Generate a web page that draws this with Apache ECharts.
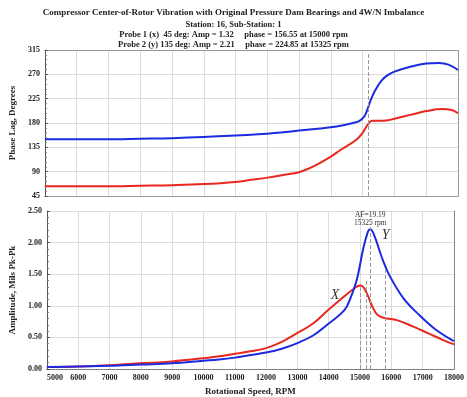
<!DOCTYPE html>
<html><head><meta charset="utf-8">
<script src="https://cdn.jsdelivr.net/npm/echarts@6/dist/echarts.min.js"></script>
<style>html,body{margin:0;padding:0;background:#fff}#c{width:467px;height:397px}</style>
</head><body><div id="c"></div>
<script>
// ---- data ----
const titleLines = [
  'Compressor Center-of-Rotor Vibration with Original Pressure Dam Bearings and 4W/N Imbalance',
  'Station: 16, Sub-Station: 1',
  'Probe 1 (x)  45 deg: Amp = 1.32     phase = 156.55 at 15000 rpm',
  'Probe 2 (y) 135 deg: Amp = 2.21     phase = 224.85 at 15325 rpm'
];
const phaseTicks = [45, 90, 135, 180, 225, 270, 315];
const ampTicks = [0, 0.5, 1.0, 1.5, 2.0, 2.5];
const rpmTicks = [5000,6000,7000,8000,9000,10000,11000,12000,13000,14000,15000,16000,17000,18000];

const bluePhaseRpm = [5000,6000,7000,8000,9000,10000,11000,12000,12500,13000,13500,14000,14400,14700,14900,15050,15150,15250,15400,15600,15800,16000,16500,17000,17400,17700,18000];
const bluePhase    = [150,150,150,151,152,154,157,160,163,166,169,172,176,180,184,192,205,222,241,259,269,275,284,290,291,288,278];

const redPhaseRpm = [5000,6000,7000,8000,9000,10000,11000,11500,12000,12500,13000,13500,14000,14300,14800,15000,15150,15300,15500,15800,16000,16500,17000,17500,17800,18000];
const redPhase    = [63,63,63,64,65,67,71,75,79,84,89,101,118,130,149,162,176,184,184,185,188,195,202,206,204,198];

const redAmpRpm = [5000,6000,7000,8000,9000,10000,10500,11000,11500,12000,12500,13000,13500,14000,14500,14800,15000,15100,15250,15400,15550,15750,16200,16700,17200,17600,18000];
const redAmp    = [0.03,0.04,0.06,0.09,0.12,0.17,0.20,0.24,0.28,0.33,0.43,0.57,0.72,0.94,1.15,1.27,1.32,1.30,1.16,0.98,0.86,0.81,0.77,0.67,0.56,0.47,0.39];

const blueAmpRpm = [5000,6000,7000,8000,9000,10000,10500,11000,11500,12000,12500,13000,13500,14000,14500,14700,14900,15100,15250,15325,15450,15700,15950,16400,16900,17400,18000];
const blueAmp    = [0.03,0.04,0.05,0.07,0.09,0.13,0.15,0.18,0.22,0.26,0.32,0.41,0.53,0.72,0.93,1.13,1.42,1.90,2.17,2.21,2.12,1.76,1.47,1.11,0.85,0.63,0.44];

// dashed reference lines [rpm, top value]
const ampRefLines = [[15000, 1.32], [15190, 1.40], [15325, 2.30], [15800, 1.56]];
const phaseRefLine = [15190, 45, 310];
const peakNote = ['AF=19.19', '15325 rpm'];
const peakNoteAt = [15325, 2.37];
const labelX = ['X', 14200, 1.17];
const labelY = ['Y', 15820, 2.12];

// ---- chart ----
const zip = (a, b) => a.map((v, i) => [v, b[i]]);
const serif = 'Liberation Serif';
const RED = '#e8271e', BLUE = '#1b2be0';
const grids = [
  {left: 42, right: 9, top: 50, height: 146},
  {left: 42, right: 9, top: 211, height: 160}
];
const frameAxisStyle = {show: true, lineStyle: {color: '#888', type: 'dotted', width: 1}};
const gridLine = {show: true, lineStyle: {color: '#dcdcdc', width: 1}};
const labelFont = {fontFamily: serif, fontWeight: 'bold', fontSize: 8, color: '#222'};
const noteLabel = (text, size, italic) => ({
  show: true, position: 'inside', formatter: text, fontFamily: serif,
  fontStyle: italic ? 'italic' : 'normal', fontSize: size, lineHeight: size + 0.5, color: '#333'
});

const chart = echarts.init(document.getElementById('c'), null, {renderer: 'canvas'});
chart.setOption({
  animation: false,
  backgroundColor: '#fff',
  title: titleLines.map((t, i) => ({
    text: t, left: 'center', top: [3, 15, 25, 35][i],
    textStyle: {fontFamily: serif, fontWeight: 'bold', fontSize: i === 0 ? 9 : 8.5, color: '#222'}
  })),
  grid: grids,
  xAxis: [
    {gridIndex: 0, type: 'value', min: 5000, max: 18000, interval: 1000,
     axisLine: {show: true, onZero: false, lineStyle: {color: '#888', type: 'dotted'}},
     axisTick: {show: false}, axisLabel: {show: false}, splitLine: gridLine},
    {gridIndex: 1, type: 'value', min: 5000, max: 18000, interval: 1000,
     axisLine: {show: true, onZero: false, lineStyle: {color: '#555'}},
     axisTick: {show: false},
     axisLabel: Object.assign({margin: 5, alignMinLabel: 'left', alignMaxLabel: 'center', formatter: v => String(v)}, labelFont),
     splitLine: gridLine,
     name: 'Rotational Speed, RPM', nameLocation: 'middle', nameGap: 18,
     nameTextStyle: {fontFamily: serif, fontWeight: 'bold', fontSize: 9, color: '#222'}},
    {gridIndex: 0, type: 'value', position: 'top', min: 5000, max: 18000,
     axisLine: frameAxisStyle, axisTick: {show: false}, axisLabel: {show: false}, splitLine: {show: false}},
    {gridIndex: 1, type: 'value', position: 'top', min: 5000, max: 18000,
     axisLine: frameAxisStyle, axisTick: {show: false}, axisLabel: {show: false}, splitLine: {show: false}}
  ],
  yAxis: [
    {gridIndex: 0, type: 'value', min: phaseTicks[0], max: phaseTicks[phaseTicks.length - 1], interval: 45,
     axisLine: {show: true, lineStyle: {color: '#555'}},
     axisTick: {show: true, length: 3, inside: true, lineStyle: {color: '#555'}},
     minorTick: {show: true, splitNumber: 5, length: 2, lineStyle: {color: '#777'}},
     axisLabel: Object.assign({margin: 5}, labelFont), splitLine: gridLine,
     name: 'Phase Lag, Degrees', nameLocation: 'middle', nameGap: 25,
     nameTextStyle: {fontFamily: serif, fontWeight: 'bold', fontSize: 9, color: '#222'}},
    {gridIndex: 1, type: 'value', min: ampTicks[0], max: ampTicks[ampTicks.length - 1], interval: 0.5,
     axisLine: {show: true, lineStyle: {color: '#555'}},
     axisTick: {show: true, length: 3, inside: true, lineStyle: {color: '#555'}},
     minorTick: {show: true, splitNumber: 5, length: 2, lineStyle: {color: '#777'}},
     axisLabel: Object.assign({margin: 5, formatter: v => v.toFixed(2)}, labelFont), splitLine: gridLine,
     name: 'Amplitude, Mils Pk-Pk', nameLocation: 'middle', nameGap: 25,
     nameTextStyle: {fontFamily: serif, fontWeight: 'bold', fontSize: 9, color: '#222'}},
    {gridIndex: 0, type: 'value', position: 'right', min: 45, max: 315,
     axisLine: frameAxisStyle, axisTick: {show: false}, axisLabel: {show: false}, splitLine: {show: false}},
    {gridIndex: 1, type: 'value', position: 'right', min: 0, max: 2.5,
     axisLine: {show: true, lineStyle: {color: '#888', width: 1}}, axisTick: {show: false}, axisLabel: {show: false}, splitLine: {show: false}}
  ],
  series: [
    {type: 'line', xAxisIndex: 0, yAxisIndex: 0, data: zip(bluePhaseRpm, bluePhase), smooth: 0.4,
     showSymbol: false, lineStyle: {color: BLUE, width: 2}, z: 3,
     markLine: {silent: true, symbol: 'none', label: {show: false},
       lineStyle: {color: '#999', type: 'dashed', width: 1},
       data: [[{coord: [phaseRefLine[0], phaseRefLine[1]]}, {coord: [phaseRefLine[0], phaseRefLine[2]]}]]}},
    {type: 'line', xAxisIndex: 0, yAxisIndex: 0, data: zip(redPhaseRpm, redPhase), smooth: 0.4,
     showSymbol: false, lineStyle: {color: RED, width: 2}, z: 3},
    {type: 'line', xAxisIndex: 1, yAxisIndex: 1, data: zip(redAmpRpm, redAmp), smooth: 0.4,
     showSymbol: false, lineStyle: {color: RED, width: 2}, z: 3,
     markLine: {silent: true, symbol: 'none', label: {show: false},
       lineStyle: {color: '#999', type: 'dashed', width: 1},
       data: ampRefLines.map(r => [{coord: [r[0], 0]}, {coord: [r[0], r[1]]}])},
     markPoint: {silent: true, symbol: 'rect', symbolSize: 1, itemStyle: {color: 'rgba(0,0,0,0)'},
       data: [
         {coord: [labelX[1], labelX[2]], label: noteLabel(labelX[0], 14, true)},
         {coord: [labelY[1], labelY[2]], label: noteLabel(labelY[0], 14, true)},
         {coord: peakNoteAt, label: noteLabel(peakNote.join('\n'), 7.5, false)}
       ]}},
    {type: 'line', xAxisIndex: 1, yAxisIndex: 1, data: zip(blueAmpRpm, blueAmp), smooth: 0.4,
     showSymbol: false, lineStyle: {color: BLUE, width: 2}, z: 4}
  ]
});
</script></body></html>
